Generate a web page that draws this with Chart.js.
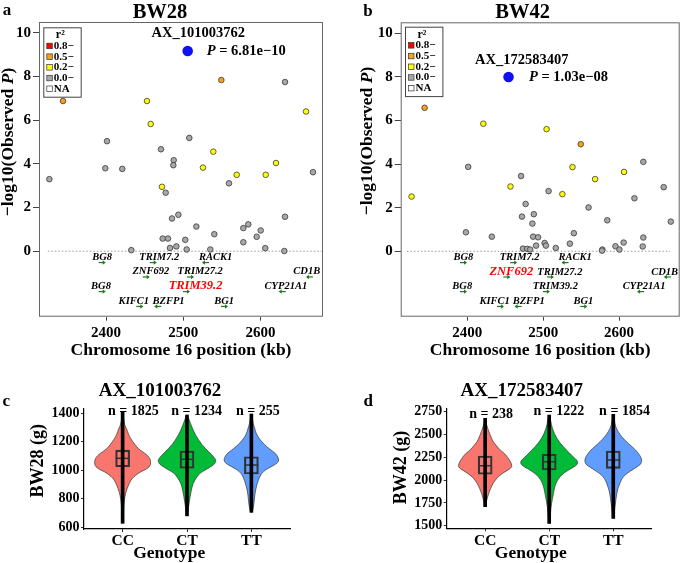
<!DOCTYPE html>
<html>
<head>
<meta charset="utf-8">
<script src="https://cdn.jsdelivr.net/npm/chart.js@4.4.1/dist/chart.umd.min.js"></script>
<style>
  body { margin: 0; background: #fff; }
  #fig { position: relative; width: 685px; height: 563px; }
  canvas { position: absolute; }
</style>
</head>
<body>
<div id="fig">
  <canvas id="pa" width="340" height="360" style="left:0;top:0"></canvas>
  <canvas id="pb" width="345" height="360" style="left:340px;top:0"></canvas>
  <canvas id="pc" width="340" height="203" style="left:0;top:360px"></canvas>
  <canvas id="pd" width="345" height="203" style="left:340px;top:360px"></canvas>
</div>
<script>
const SERIF = "'Liberation Serif', 'Times New Roman', serif";

// ---- locus plots: SNP position (kb), -log10 P, r2 bin with lead SNP ----
const posA = [2344.3, 2549.4, 2631.9, 2453.1, 2457.9, 2659.1, 2401.3, 2507.9, 2471.2, 2539.0, 2487.7, 2487.2, 2399.1, 2421.1, 2525.6, 2620.2, 2569.3, 2606.9, 2668.1, 2326.6, 2472.5, 2477.3, 2559.3, 2485.5, 2493.7, 2517.0, 2540.3, 2473.4, 2480.3, 2482.9, 2491.1, 2502.7, 2504.5, 2432.8, 2535.1, 2577.9, 2584.3, 2577.9, 2595.2, 2600.4, 2606.3, 2631.9, 2631.0];
const logpA = [6.88, 7.84, 7.75, 6.88, 5.83, 6.40, 5.04, 5.19, 4.67, 4.56, 4.17, 3.94, 3.80, 3.77, 3.83, 4.04, 3.50, 3.50, 3.62, 3.30, 2.95, 2.68, 3.11, 1.50, 1.67, 1.13, 0.78, 0.58, 0.58, 0.15, 0.22, 0.52, 0.08, 0.05, 0.08, 1.06, 1.23, 0.41, 0.66, 0.95, 0.14, 1.58, 0.01];
const ldA = [0.5, 0.5, 0, 0.2, 0.2, 0.2, 0, 0, 0, 0.2, 0, 0, 0, 0, 0.2, 0.2, 0.2, 0.2, 0, 0, 0.2, 0, 0, 0, 0, 0, 0, 0, 0, 0, 0, 0, 0, 0, 0, 0, 0, 0, 0, 0, 0, 0, 0];
const leadA = { id: "AX_101003762", pos: 2505.8, p: "6.81e\u221210", logp: 9.17 };

const posB = [2343.9, 2421.2, 2504.5, 2549.5, 2401.3, 2470.9, 2538.6, 2568.4, 2606.5, 2631.9, 2326.7, 2457.0, 2507.1, 2525.3, 2620.2, 2658.7, 2668.1, 2476.9, 2472.1, 2487.7, 2485.8, 2559.8, 2584.4, 2398.3, 2432.4, 2486.8, 2493.3, 2490.7, 2501.9, 2503.6, 2473.4, 2479.0, 2482.9, 2516.6, 2535.2, 2540.4, 2578.0, 2577.5, 2595.2, 2600.4, 2606.0, 2631.9, 2631.1];
const logpB = [6.58, 5.85, 5.60, 4.91, 3.87, 3.45, 3.86, 3.31, 3.64, 4.10, 2.51, 2.97, 2.76, 2.62, 2.43, 2.94, 1.36, 2.17, 1.59, 1.70, 1.27, 2.01, 1.42, 0.87, 0.67, 0.67, 0.64, 0.26, 0.38, 0.26, 0.12, 0.11, 0.08, 0.15, 0.35, 0.83, 0.08, 0.03, 0.23, 0.08, 0.40, 0.63, 0.22];
const ldB = [0.5, 0.2, 0.2, 0.5, 0, 0, 0.2, 0.2, 0.2, 0, 0.2, 0.2, 0, 0.2, 0, 0, 0, 0, 0, 0, 0, 0, 0, 0, 0, 0, 0, 0, 0, 0, 0, 0, 0, 0, 0, 0, 0, 0, 0, 0, 0, 0, 0];
const leadB = { id: "AX_172583407", pos: 2454.4, p: "1.03e\u221208", logp: 7.99 };

// genes under the locus plots
const geneNames = ["BG8", "TRIM7.2", "RACK1", "ZNF692", "TRIM27.2", "CD1B", "BG8", "TRIM39.2", "CYP21A1", "KIFC1", "BZFP1", "BG1"];
const geneKb = [2394.4, 2460.5, 2529.5, 2451.4, 2508.8, 2664.2, 2394.4, 2503.6, 2628.9, 2443.1, 2467.7, 2552.8];
const geneLabelKb = [2395, 2469, 2542, 2458, 2522, 2660, 2393.5, 2516, 2633, 2436, 2481, 2553];
const geneRow = [0, 0, 0, 1, 1, 1, 2, 2, 2, 3, 3, 3];
const geneStrand = [1, 1, -1, 1, 1, -1, 1, 1, -1, 1, -1, 1];
const geneRowY = [-0.52, -1.18, -1.85, -2.53];

const locusYTicks = [0, 2, 4, 6, 8, 10];
const locusXTicks = [2400, 2500, 2600];
const legendBins = ["0.8\u2212", "0.5\u2212", "0.2\u2212", "0.0\u2212", "NA"];
const legendLd = [0.8, 0.5, 0.2, 0, null];

// ---- violin plots ----
const genotypes = ["CC", "CT", "TT"];
const genotypeColors = ["#F8766D", "#00BA38", "#619CFF"];
const nC = [1825, 1234, 255];
const nD = [238, 1222, 1854];
// [q1, median, q3]
const boxC = [[1025, 1084, 1142], [1014, 1077, 1135], [974, 1037, 1095]];
const boxD = [[2064, 2158, 2264], [2111, 2202, 2283], [2129, 2220, 2319]];
// [min, max] of individual points
const rangeC = [[628, 1411], [680, 1388], [705, 1395]];
const rangeD = [[1708, 2677], [1526, 2714], [1581, 2720]];
// violin outlines: [weight, relative density]
const profC_CC = [[1411,0.4],[1360,1],[1318,2],[1295,3.8],[1250,6],[1225,7.8],[1178,12.5],[1150,16],[1130,20],[1110,24],[1095,26],[1075,27.8],[1060,28],[1045,28],[1025,27],[1005,23],[990,18],[965,13],[944,9.7],[920,7.5],[897,6],[850,3.3],[803,2],[760,1.2],[700,0.7],[628,0.3]];
const profC_CT = [[1388,0.5],[1318,4],[1248,8.3],[1178,15],[1130,21.7],[1095,26.7],[1072,29],[1055,28.5],[1037,26.7],[1002,18.3],[980,13],[955,10],[909,6],[850,4],[780,2.3],[698,0.7],[680,0.3]];
const profC_TT = [[1395,0.3],[1340,1.5],[1318,2.2],[1290,3.5],[1255,5],[1225,7.5],[1195,11],[1166,15.3],[1140,20],[1119,24],[1095,26.5],[1072,27.5],[1055,26.5],[1037,23],[1020,18.5],[1002,14],[980,10.5],[955,8.3],[897,5.3],[827,3.3],[757,2.5],[710,1],[705,0.3]];
const profD_CC = [[2677,0.3],[2620,1.2],[2586,2],[2531,3.8],[2475,5.8],[2421,8],[2375,11.5],[2330,15],[2300,18.5],[2275,21],[2220,24.5],[2180,26.5],[2147,27],[2120,24.5],[2092,20],[2055,15],[2020,11.7],[1980,9],[1946,7],[1873,4.2],[1800,2],[1750,1],[1708,0.3]];
const profD_CT = [[2714,0.3],[2650,1.5],[2568,3],[2458,7.3],[2366,14],[2294,20.7],[2250,24.5],[2220,28],[2184,29],[2155,26.5],[2129,22.3],[2090,16.5],[2056,12.3],[2010,9],[1965,6.7],[1900,5],[1837,4],[1760,2.6],[1691,1.7],[1600,1],[1526,0.3]];
const profD_TT = [[2720,0.3],[2620,1.5],[2568,3],[2494,7],[2440,11.5],[2403,15],[2365,19],[2330,22.5],[2290,25.5],[2257,27.5],[2220,28.7],[2190,28.3],[2165,26.7],[2140,23],[2111,19],[2075,14],[2037,10],[1990,7.5],[1946,6],[1900,4.5],[1837,3.3],[1760,2.3],[1691,1.5],[1630,0.8],[1581,0.3]];
const yTicksC = [600, 800, 1000, 1200, 1400];
const yTicksD = [1500, 1750, 2000, 2250, 2500, 2750];
const violinScale = 0.45 / 29;

Chart.defaults.font.family = SERIF;
Chart.defaults.color = '#000';

function font(size, style) {
  return (style ? style + ' ' : '') + 'bold ' + size + 'px ' + SERIF;
}

function rich(ctx, parts, x, y, align) {
  let w = 0;
  parts.forEach(p => { ctx.font = p[1]; w += ctx.measureText(p[0]).width; });
  let cx = align === 'center' ? x - w / 2 : x;
  ctx.textAlign = 'left';
  ctx.textBaseline = 'middle';
  parts.forEach(p => {
    ctx.font = p[1];
    ctx.fillText(p[0], cx, y);
    cx += ctx.measureText(p[0]).width;
  });
}

function text(ctx, s, f, x, y, rot) {
  ctx.save();
  ctx.translate(x, y);
  if (rot) ctx.rotate(rot);
  ctx.font = f;
  ctx.fillStyle = '#000';
  ctx.textAlign = 'center';
  ctx.textBaseline = 'middle';
  ctx.fillText(s, 0, 0);
  ctx.restore();
}

function ldColor(r) {
  if (r === null) return '#FFFFFF';
  return r >= 0.8 ? '#FF0000' : r >= 0.5 ? '#F7A11A' : r >= 0.2 ? '#FFFF00' : '#A8A8A8';
}

function tickFont(size) {
  return { family: SERIF, size: size, weight: 'bold' };
}

function locusChart(id, d) {
  const extras = {
    id: 'locusExtras',
    afterDatasetsDraw(chart) {
      const { ctx, scales: { x, y } } = chart;
      ctx.save();
      geneNames.forEach((g, i) => {
        const px = x.getPixelForValue(geneKb[i]);
        const py = y.getPixelForValue(geneRowY[geneRow[i]]);
        const dir = geneStrand[i];
        ctx.strokeStyle = '#1d7d1d';
        ctx.fillStyle = '#1d7d1d';
        ctx.lineWidth = 1.2;
        ctx.beginPath();
        ctx.moveTo(px - 3, py);
        ctx.lineTo(px + 3, py);
        ctx.stroke();
        ctx.beginPath();
        ctx.moveTo(px + 4 * dir, py);
        ctx.lineTo(px + dir, py - 2.2);
        ctx.lineTo(px + dir, py + 2.2);
        ctx.closePath();
        ctx.fill();
        const hi = i === d.hiGene;
        ctx.font = font(hi ? 12.5 : 10.5, 'italic');
        ctx.fillStyle = hi ? '#FF0000' : '#000';
        ctx.textAlign = 'center';
        ctx.textBaseline = 'alphabetic';
        ctx.fillText(g, x.getPixelForValue(geneLabelKb[i]), py - 2.5);
      });
      ctx.restore();
    },
    afterDraw(chart) {
      const { ctx, chartArea: ca } = chart;
      ctx.save();
      ctx.strokeStyle = '#666';
      ctx.lineWidth = 1;
      ctx.strokeRect(ca.left + 0.5, ca.top + 0.5, ca.width - 1, ca.height - 1);

      // r2 legend
      const [lx, ly] = d.legendAt;
      ctx.fillStyle = '#fff';
      ctx.fillRect(lx, ly, 37.4, 69.4);
      ctx.strokeStyle = '#444';
      ctx.strokeRect(lx + 0.5, ly + 0.5, 37.4, 69.4);
      text(ctx, 'r\u00B2', font(12), lx + 17, ly + 8);
      legendBins.forEach((lab, k) => {
        const ry = ly + 18.7 + k * 10.7;
        ctx.fillStyle = ldColor(legendLd[k]);
        ctx.fillRect(lx + 3.5, ry - 2.8, 5.5, 5.5);
        ctx.strokeStyle = '#333';
        ctx.lineWidth = 0.7;
        ctx.strokeRect(lx + 3.5, ry - 2.8, 5.5, 5.5);
        ctx.fillStyle = '#000';
        ctx.font = font(11);
        ctx.textAlign = 'left';
        ctx.textBaseline = 'middle';
        ctx.fillText(lab, lx + 10.5, ry);
      });

      // titles
      text(ctx, d.letter, font(17), d.letterAt[0], d.letterAt[1]);
      text(ctx, d.title, font(20.5), d.titleAt[0], d.titleAt[1]);
      text(ctx, 'Chromosome 16 position (kb)', font(17.5), (ca.left + ca.right) / 2, 350);
      ctx.save();
      ctx.translate(d.yTitleAt[0], d.yTitleAt[1]);
      ctx.rotate(-Math.PI / 2);
      ctx.fillStyle = '#000';
      rich(ctx, [['\u2212log10(Observed ', font(17.5)], ['P', font(17.5, 'italic')], [')', font(17.5)]], 0, 0, 'center');
      ctx.restore();

      // lead SNP annotation
      ctx.fillStyle = '#000';
      text(ctx, d.lead.id, font(14.5), d.idAt[0], d.idAt[1]);
      rich(ctx, [['P', font(14.5, 'italic')], [' = ' + d.lead.p, font(14.5)]], d.pAt[0], d.pAt[1], 'left');
      ctx.restore();
    }
  };

  return new Chart(document.getElementById(id), {
    type: 'scatter',
    data: {
      datasets: [
        {
          type: 'line',
          data: d.baseline.map(v => ({ x: v, y: 0 })),
          borderColor: '#999',
          borderWidth: 1,
          borderDash: [1.5, 2],
          pointRadius: 0,
          order: 3
        },
        {
          data: d.pos.map((p, i) => ({ x: p, y: d.logp[i] })),
          pointRadius: 2.8,
          pointBackgroundColor: d.ld.map(ldColor),
          pointBorderColor: '#3a3a3a',
          pointBorderWidth: 0.8,
          order: 2
        },
        {
          data: [{ x: d.lead.pos, y: d.lead.logp }],
          pointRadius: 5.3,
          pointBackgroundColor: '#1010F5',
          pointBorderColor: '#1010F5',
          pointBorderWidth: 0,
          order: 1
        }
      ]
    },
    options: {
      animation: false,
      responsive: false,
      devicePixelRatio: 1,
      layout: { padding: { left: 0, top: d.padTop, right: d.padRight, bottom: 0 } },
      plugins: { legend: { display: false }, tooltip: { enabled: false } },
      scales: {
        x: {
          type: 'linear',
          min: d.xRange[0],
          max: d.xRange[1],
          afterBuildTicks: s => { s.ticks = locusXTicks.map(v => ({ value: v })); },
          afterFit: s => { s.height = d.xAxisH; },
          grid: { display: true, drawOnChartArea: false, tickLength: 4, color: '#444' },
          border: { display: false },
          ticks: { font: tickFont(15), color: '#000', padding: 3, autoSkip: false, maxRotation: 0, callback: v => String(v) }
        },
        y: {
          type: 'linear',
          min: -3,
          max: 10.5,
          afterBuildTicks: s => { s.ticks = locusYTicks.map(v => ({ value: v })); },
          afterFit: s => { s.width = d.yAxisW; },
          grid: { display: true, drawOnChartArea: false, tickLength: 6, color: '#444' },
          border: { display: false },
          ticks: { font: tickFont(15), color: '#000', padding: 2, autoSkip: false, callback: v => String(v) }
        }
      }
    },
    plugins: [extras]
  });
}

function violinChart(id, d) {
  const extras = {
    id: 'violins',
    beforeDatasetsDraw(chart) {
      const { ctx, scales: { x, y } } = chart;
      ctx.save();
      d.profiles.forEach((prof, i) => {
        const pts = [];
        prof.forEach(([v, w]) => pts.push([x.getPixelForValue(i + 1 + w * violinScale), y.getPixelForValue(v)]));
        for (let k = prof.length - 1; k >= 0; k--) {
          const [v, w] = prof[k];
          pts.push([x.getPixelForValue(i + 1 - w * violinScale), y.getPixelForValue(v)]);
        }
        const n = pts.length;
        const mid = (a, b) => [(a[0] + b[0]) / 2, (a[1] + b[1]) / 2];
        const m0 = mid(pts[n - 1], pts[0]);
        ctx.beginPath();
        ctx.moveTo(m0[0], m0[1]);
        for (let k = 0; k < n; k++) {
          const m = mid(pts[k], pts[(k + 1) % n]);
          ctx.quadraticCurveTo(pts[k][0], pts[k][1], m[0], m[1]);
        }
        ctx.closePath();
        ctx.fillStyle = genotypeColors[i];
        ctx.fill();
        ctx.strokeStyle = '#333';
        ctx.lineWidth = 0.7;
        ctx.stroke();
      });
      ctx.restore();
    },
    afterDraw(chart) {
      const { ctx } = chart;
      text(ctx, d.letter, font(17), d.letterAt[0], d.letterAt[1]);
      text(ctx, d.title, font(19), d.titleAt[0], d.titleAt[1]);
      d.n.forEach((n, i) => text(ctx, 'n = ' + n, font(14), d.nAt[i][0], d.nAt[i][1]));
      text(ctx, d.yTitle, font(18), d.yTitleAt[0], d.yTitleAt[1], -Math.PI / 2);
      text(ctx, 'Genotype', font(17.5), d.xTitleAt[0], d.xTitleAt[1]);
    }
  };

  return new Chart(document.getElementById(id), {
    type: 'bar',
    data: {
      datasets: [
        {
          type: 'bar',
          data: d.box.map((b, i) => ({ x: i + 1, y: [b[0], b[2]] })),
          grouped: false,
          barThickness: 14,
          backgroundColor: 'rgba(0,0,0,0)',
          borderColor: '#333',
          borderWidth: 1.5,
          borderSkipped: false,
          order: 3
        },
        {
          type: 'scatter',
          data: d.box.map((b, i) => ({ x: i + 1, y: b[1] })),
          pointStyle: 'line',
          pointRadius: 7,
          pointBorderColor: '#333',
          pointBorderWidth: 1.5,
          order: 2
        },
        {
          type: 'bar',
          data: d.range.map((r, i) => ({ x: i + 1, y: r })),
          grouped: false,
          barThickness: 3,
          backgroundColor: '#000',
          order: 1
        }
      ]
    },
    options: {
      animation: false,
      responsive: false,
      devicePixelRatio: 1,
      layout: { padding: { left: 0, top: 49, right: d.padRight, bottom: 0 } },
      plugins: { legend: { display: false }, tooltip: { enabled: false } },
      scales: {
        x: {
          type: 'linear',
          min: 0.4,
          max: 3.6,
          offset: false,
          afterBuildTicks: s => { s.ticks = genotypes.map((g, i) => ({ value: i + 1 })); },
          afterFit: s => { s.height = d.xAxisH; },
          grid: { display: true, offset: false, drawOnChartArea: false, tickLength: 3, color: '#333' },
          border: { display: true, color: '#000', width: 1.2 },
          ticks: { font: tickFont(15.5), color: '#000', padding: 0, autoSkip: false, maxRotation: 0, callback: v => genotypes[v - 1] }
        },
        y: {
          type: 'linear',
          min: d.yRange[0],
          max: d.yRange[1],
          afterBuildTicks: s => { s.ticks = d.yTicks.map(v => ({ value: v })); },
          afterFit: s => { s.width = d.yAxisW; },
          grid: { display: true, drawOnChartArea: false, tickLength: 3, color: '#333' },
          border: { display: true, color: '#000', width: 1.2 },
          ticks: { font: tickFont(14), color: '#000', padding: 1.5, autoSkip: false, callback: v => String(v) }
        }
      }
    },
    plugins: [extras]
  });
}

locusChart('pa', {
  pos: posA, logp: logpA, ld: ldA, lead: leadA, hiGene: 7,
  baseline: [2324.6, 2679.4], xRange: [2313.2, 2681.1],
  padTop: 22, padRight: 17, yAxisW: 39, xAxisH: 43.3,
  legendAt: [43.3, 27.3], letter: 'a', letterAt: [7, 11], title: 'BW28', titleAt: [160, 13],
  yTitleAt: [8, 142], idAt: [198.3, 33.3], pAt: [206.7, 51.7]
});

locusChart('pb', {
  pos: posB, logp: logpB, ld: ldB, lead: leadB, hiGene: 3,
  baseline: [2320.5, 2667.1], xRange: [2312.4, 2679.8],
  padTop: 22.3, padRight: 0.7, yAxisW: 60.7, xAxisH: 43.3,
  legendAt: [65, 26.7], letter: 'b', letterAt: [28, 12], title: 'BW42', titleAt: [182.7, 13],
  yTitleAt: [27.5, 141], idAt: [181.7, 60], pAt: [189, 77]
});

violinChart('pc', {
  profiles: [profC_CC, profC_CT, profC_TT], box: boxC, range: rangeC, n: nC,
  yRange: [588, 1430], yTicks: yTicksC, padRight: 50, yAxisW: 84, xAxisH: 34,
  letter: 'c', letterAt: [6.3, 41.7], title: 'AX_101003762', titleAt: [160, 31],
  nAt: [[133.3, 51.7], [196.7, 51.7], [257.8, 51.7]],
  yTitle: 'BW28 (g)', yTitleAt: [38.5, 100.8], xTitleAt: [169.2, 193.3]
});

violinChart('pd', {
  profiles: [profD_CC, profD_CT, profD_TT], box: boxD, range: rangeD, n: nD,
  yRange: [1471.5, 2779.6], yTicks: yTicksD, padRight: 33.3, yAxisW: 106.7, xAxisH: 34.7,
  letter: 'd', letterAt: [28.3, 41.7], title: 'AX_172583407', titleAt: [181.7, 31],
  nAt: [[151.2, 54.3], [218.8, 51], [284.5, 51]],
  yTitle: 'BW42 (g)', yTitleAt: [61.7, 107.5], xTitleAt: [190.8, 193.3]
});
</script>
</body>
</html>
